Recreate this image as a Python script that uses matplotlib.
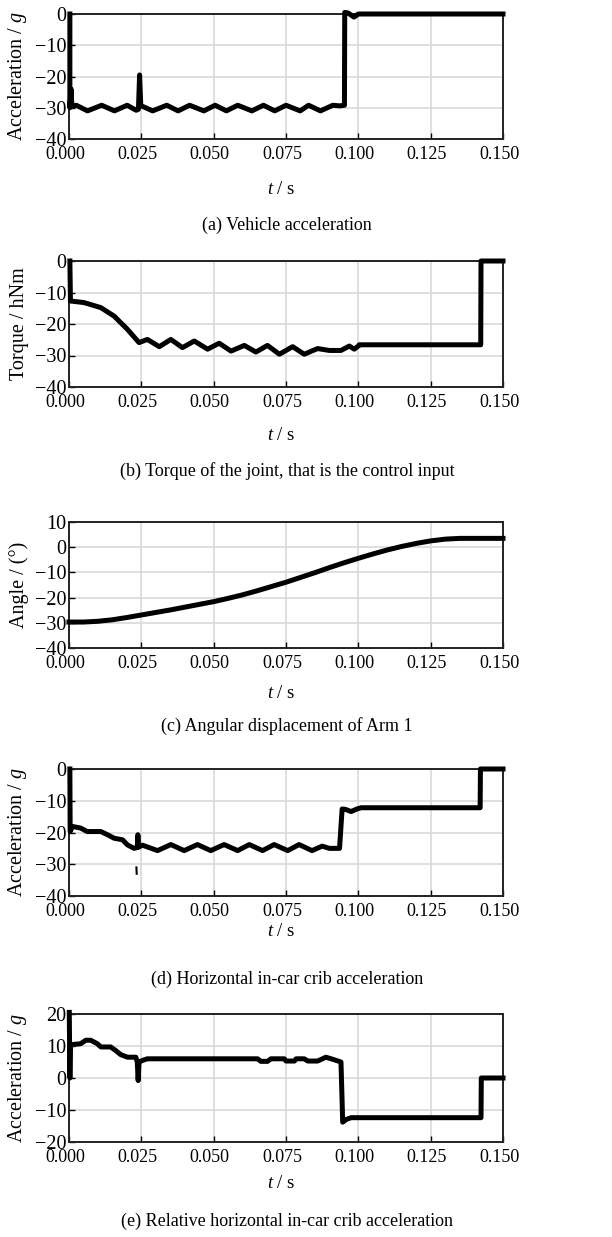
import numpy as np
import matplotlib
matplotlib.use('Agg')
import matplotlib.pyplot as plt
import matplotlib.transforms as mtransforms

plt.rcParams['font.family'] = ['Liberation Serif', 'DejaVu Serif']
plt.rcParams['mathtext.fontset'] = 'custom'
plt.rcParams['mathtext.rm'] = 'Liberation Serif'
plt.rcParams['mathtext.it'] = 'Liberation Serif:italic'

# ---- data ----
# (a) vehicle acceleration, g
t_a = [0.0003, 0.0003, 0.0007, 0.0010, 0.0025, 0.0064, 0.0113, 0.0157, 0.0201,
       0.0232, 0.0240, 0.0244, 0.0248, 0.0289, 0.0338, 0.0377, 0.0417, 0.0466,
       0.0505, 0.0544, 0.0583, 0.0632, 0.0672, 0.0711, 0.0750, 0.0799, 0.0828,
       0.0869, 0.0912, 0.0935, 0.0952, 0.0953, 0.0965, 0.0985, 0.1000, 0.1500]
y_a = [0, -30, -24, -29.5, -29.2, -31, -29.2, -31, -29.2,
       -30.8, -30.5, -19.5, -29.3, -31, -29.2, -31, -29.2, -31,
       -29.2, -31, -29.2, -31, -29.2, -31, -29.2, -31, -29.2,
       -31, -29.2, -29.4, -29.2, 0.5, 0.3, -1, 0, 0]

# (b) torque of the joint, hNm
t_b = [0.0003, 0.0005, 0.0052, 0.0110, 0.0156, 0.0202, 0.0242, 0.0271, 0.0312,
       0.0352, 0.0392, 0.0433, 0.0479, 0.0519, 0.0560, 0.0606, 0.0646, 0.0686,
       0.0727, 0.0773, 0.0813, 0.0859, 0.0900, 0.0940, 0.0969, 0.0986, 0.1000,
       0.1003, 0.1423, 0.1424, 0.1500]
y_b = [0, -12.7, -13.2, -14.8, -17.5, -21.7, -25.9, -24.9, -27.2,
       -24.9, -27.5, -25.4, -28.0, -26.1, -28.6, -26.8, -28.9, -26.8,
       -29.6, -27.2, -29.6, -27.8, -28.4, -28.4, -27.0, -28.0, -27.0,
       -26.6, -26.6, 0, 0]

# (c) angular displacement of arm 1, deg
t_c = [0.000, 0.005, 0.010, 0.015, 0.020, 0.025, 0.030, 0.035, 0.040, 0.045,
       0.050, 0.055, 0.060, 0.065, 0.070, 0.075, 0.080, 0.085, 0.090, 0.095,
       0.100, 0.105, 0.110, 0.115, 0.120, 0.125, 0.130, 0.135, 0.150]
y_c = [-29.7, -29.7, -29.4, -28.8, -27.9, -26.9, -25.9, -24.9, -23.8, -22.7,
       -21.6, -20.3, -18.9, -17.3, -15.6, -13.9, -12.0, -10.1, -8.1, -6.2,
       -4.4, -2.7, -1.1, 0.3, 1.5, 2.5, 3.2, 3.5, 3.5]

# (d) horizontal in-car crib acceleration, g
t_d = [0.0003, 0.0004, 0.0012, 0.0040, 0.0063, 0.0110, 0.0133, 0.0156, 0.0185,
       0.0202, 0.0225, 0.0236, 0.0238, 0.0241, 0.0254, 0.0306, 0.0352, 0.0398,
       0.0444, 0.0490, 0.0536, 0.0583, 0.0623, 0.0669, 0.0709, 0.0756, 0.0795,
       0.0840, 0.0875, 0.0900, 0.0935, 0.0944, 0.0955, 0.0975, 0.0995, 0.1010,
       0.1421, 0.1422, 0.1500]
y_d = [0, -19.7, -18.1, -18.6, -19.7, -19.7, -20.7, -21.8, -22.3,
       -23.9, -25.0, -24.7, -20.7, -24.6, -24.0, -25.7, -23.8, -25.7,
       -23.8, -25.7, -23.8, -25.7, -23.8, -25.7, -23.8, -25.7, -23.8,
       -25.7, -24.3, -25.0, -25.0, -12.6, -12.7, -13.4, -12.6, -12.2,
       -12.2, 0, 0]
# small detached stroke below the curve
t_d_mark = [0.0233, 0.0234]
y_d_mark = [-31.0, -33.0]

# (e) relative horizontal in-car crib acceleration, g
t_e = [0.0001, 0.0003, 0.0005, 0.0040, 0.0058, 0.0075, 0.0098, 0.0110, 0.0144,
       0.0161, 0.0179, 0.0202, 0.0231, 0.0236, 0.0239, 0.0242, 0.0254, 0.0271,
       0.0652, 0.0663, 0.0686, 0.0698, 0.0744, 0.0750, 0.0779, 0.0785, 0.0813,
       0.0825, 0.0859, 0.0888, 0.0906, 0.0923, 0.0940, 0.0946, 0.0957, 0.0975,
       0.1424, 0.1425, 0.1500]
y_e = [20.5, 0, 10.4, 10.7, 11.8, 11.8, 10.7, 9.7, 9.7,
       8.6, 7.3, 6.5, 6.5, 5.0, -0.8, 5.0, 5.5, 6.0,
       6.0, 5.2, 5.2, 6.0, 6.0, 5.3, 5.3, 6.0, 6.0,
       5.3, 5.3, 6.5, 6.0, 5.5, 5.0, -13.8, -13.0, -12.4,
       -12.4, 0, 0]

x_ticks = [0.000, 0.025, 0.050, 0.075, 0.100, 0.125, 0.150]

panels = [
    (t_a, y_a, 'Acceleration / $g$', (-40, 0), [-40, -30, -20, -10, 0],
     '(a) Vehicle acceleration', 14, 139, 190, 225),
    (t_b, y_b, 'Torque / hNm', (-40, 0), [-40, -30, -20, -10, 0],
     '(b) Torque of the joint, that is the control input', 261, 387, 435, 471),
    (t_c, y_c, 'Angle / (\u00b0)', (-40, 10), [-40, -30, -20, -10, 0, 10],
     '(c) Angular displacement of Arm 1', 522, 648, 693, 726),
    (t_d, y_d, 'Acceleration / $g$', (-40, 0), [-40, -30, -20, -10, 0],
     '(d) Horizontal in-car crib acceleration', 769, 896, 932, 979),
    (t_e, y_e, 'Acceleration / $g$', (-20, 20), [-20, -10, 0, 10, 20],
     '(e) Relative horizontal in-car crib acceleration', 1014, 1142, 1183, 1221),
]

W, H = 612, 1237
fig = plt.figure(figsize=(W / 100, H / 100), dpi=100)
left, right = 69, 503
shift = mtransforms.ScaledTranslation(-4 / 100, 0, fig.dpi_scale_trans)

for i, (t, y, ylab, ylim, yt, cap, top, bot, ty, cy) in enumerate(panels):
    ax = fig.add_axes([left / W, 1 - bot / H, (right - left) / W, (bot - top) / H])
    ax.plot(t, y, color='black', lw=3.6, solid_joinstyle='round', clip_on=False, zorder=3)
    if i == 3:
        ax.plot(t_d_mark, y_d_mark, color='black', lw=1.5, zorder=3)
    ax.set_xlim(0, 0.150)
    ax.set_ylim(*ylim)
    ax.set_xticks(x_ticks)
    ax.set_xticklabels(['%.3f' % v for v in x_ticks])
    ax.set_yticks(yt)
    ax.grid(True, color='#d9d9d9', lw=1.2)
    ax.set_axisbelow(True)
    ax.tick_params(direction='in', length=4, width=1)
    ax.tick_params(axis='x', pad=5, labelsize=13)
    ax.tick_params(axis='y', pad=2, labelsize=14.5)
    for lab in ax.get_xticklabels():
        lab.set_transform(lab.get_transform() + shift)
    for s in ax.spines.values():
        s.set_linewidth(1.4)
        s.set_color('#222222')
    ax.set_ylabel(ylab, fontsize=14.5)
    ax.yaxis.set_label_coords(-0.092, 0.5)
    fig.text(281 / W, 1 - ty / H, '$t$ / s', ha='center', va='center', fontsize=13.5)
    fig.text(287 / W, 1 - cy / H, cap, ha='center', va='center', fontsize=13)

fig.savefig('out.png', dpi=100)
